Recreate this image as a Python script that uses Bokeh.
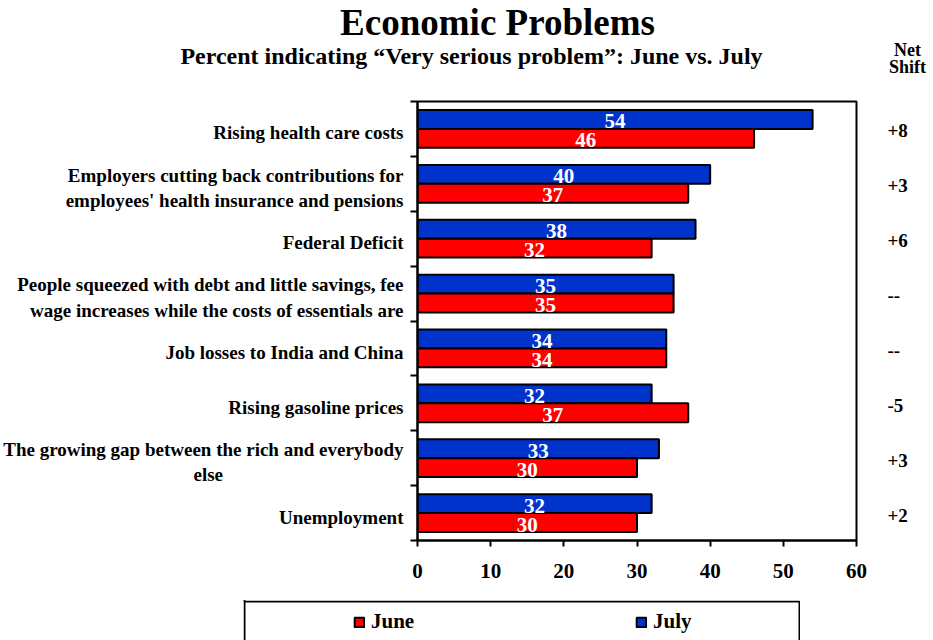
from bokeh.plotting import figure
from bokeh.layouts import column, row
from bokeh.models import (Range1d, FixedTicker, Legend, LegendItem, LinearAxis,
                          BoxAnnotation, ColumnDataSource, Spacer)
from bokeh.embed import file_html
from bokeh.resources import INLINE

# ---------------- data ----------------
categories = [
    "Rising health care costs",
    "Employers cutting back contributions for\nemployees' health insurance and pensions",
    "Federal Deficit",
    "People squeezed with debt and little savings, fee\nwage increases while the costs of essentials are",
    "Job losses to India and China",
    "Rising gasoline prices",
    "The growing gap between the rich and everybody\nelse",
    "Unemployment",
]
june = [46, 37, 32, 35, 34, 37, 30, 30]
july = [54, 40, 38, 35, 34, 32, 33, 32]
net_shift = ["+8", "+3", "+6", "--", "--", "-5", "+3", "+2"]
x_ticks = [0, 10, 20, 30, 40, 50, 60]

title_text = "Economic Problems"
subtitle_text = "Percent indicating \u201cVery serious problem\u201d:  June vs. July"
net_header = ["Net", "Shift"]

# ---------------- style ----------------
FONT = "Liberation Serif"
BLUE = "#0033CC"
RED = "#FF0000"
W = 933
NBSP = "\u00a0"
# right padding (in no-break spaces) so that a short last line sits centred
# under the line above it, as in the original
line_pad = {6: 38}

n = len(categories)
idx = list(range(n))
bar_h = 0.345
px_per_unit = 439 / n
y_july = [i + 0.5 - bar_h / 2 for i in idx]
y_june = [i + 0.5 + bar_h / 2 for i in idx]

src = ColumnDataSource(dict(
    y_july=y_july, y_june=y_june, july=july, june=june,
    july_mid=[v / 2 for v in july], june_mid=[v / 2 for v in june],
    july_txt=[str(v) for v in july], june_txt=[str(v) for v in june],
))

# ---------------- header figure ----------------
top = figure(width=W, height=90, output_backend="svg", toolbar_location=None,
             x_range=Range1d(0, W), y_range=Range1d(90, 0),
             x_axis_type=None, y_axis_type=None, min_border=0)
top.frame_align = False
top.outline_line_color = None
top.xgrid.visible = False
top.ygrid.visible = False
top.text(x=[497], y=[22], text=[title_text], text_font=FONT,
         text_font_style="bold", text_font_size="37px", text_color="black",
         text_align="center", text_baseline="middle")
top.text(x=[474], y=[55], text=[subtitle_text], text_font=FONT,
         text_font_style="bold", text_font_size="24px", text_color="black",
         text_align="center", text_baseline="middle")
top.text(x=[907, 907], y=[49, 66], text=net_header, text_font=FONT,
         text_font_style="bold", text_font_size="18px", text_color="black",
         text_align="center", text_baseline="middle")

# ---------------- main chart ----------------
p = figure(width=W, height=510, output_backend="svg", toolbar_location=None,
           x_range=Range1d(0, 60), y_range=Range1d(n, 0),
           min_border_left=417, min_border_right=77,
           min_border_top=11, min_border_bottom=60)
p.outline_line_color = "black"
p.outline_line_width = 2
p.xgrid.visible = False
p.ygrid.visible = False

xa = p.xaxis[0]
xa.ticker = FixedTicker(ticks=x_ticks)
xa.axis_line_width = 2
xa.major_tick_line_width = 2
xa.major_tick_out = 6
xa.major_tick_in = 0
xa.minor_tick_line_color = None
xa.major_label_text_font = FONT
xa.major_label_text_font_style = "bold"
xa.major_label_text_font_size = "21px"
xa.major_label_text_color = "black"
xa.major_label_standoff = 17

# left axis: boundary ticks (minor) + category labels (major)
cat_labels = []
for i, c in enumerate(categories):
    lines = c.split("\n")
    if i in line_pad:
        lines[-1] = lines[-1] + NBSP * line_pad[i]
    cat_labels.append("\n".join(lines))

label_ticks = [i + 0.5 + 4 / px_per_unit for i in idx]
ya = p.yaxis[0]
ya.ticker = FixedTicker(ticks=label_ticks, minor_ticks=list(range(n + 1)))
ya.major_label_overrides = {t: c for t, c in zip(label_ticks, cat_labels)}
ya.axis_line_width = 2
ya.major_tick_line_color = None
ya.major_tick_out = 0
ya.major_tick_in = 0
ya.minor_tick_line_color = "black"
ya.minor_tick_line_width = 2
ya.minor_tick_out = 7
ya.minor_tick_in = 0
ya.major_label_text_font = FONT
ya.major_label_text_font_style = "bold"
ya.major_label_text_font_size = "19px"
ya.major_label_text_color = "black"
ya.major_label_text_line_height = 1.2
ya.major_label_standoff = 7

# right axis: net shift column
shift_ticks = [i + 0.5 + 2 / px_per_unit for i in idx]
ra = LinearAxis(ticker=FixedTicker(ticks=shift_ticks),
                major_label_overrides={t: s for t, s in zip(shift_ticks, net_shift)},
                axis_line_color=None, major_tick_line_color=None,
                minor_tick_line_color=None, major_label_standoff=25,
                major_label_text_font=FONT, major_label_text_font_style="bold",
                major_label_text_font_size="19px",
                major_label_text_color="black")
p.add_layout(ra, "right")

r_july = p.hbar(y="y_july", right="july", left=0, height=bar_h, source=src,
                fill_color=BLUE, line_color="black", line_width=2)
r_june = p.hbar(y="y_june", right="june", left=0, height=bar_h, source=src,
                fill_color=RED, line_color="black", line_width=2)

for ycol, xcol, tcol in (("y_july", "july_mid", "july_txt"),
                         ("y_june", "june_mid", "june_txt")):
    p.text(x=xcol, y=ycol, text=tcol, source=src, text_color="white",
           text_font=FONT, text_font_style="bold", text_font_size="21px",
           text_align="center", text_baseline="middle", y_offset=2)

# ---------------- legend strip ----------------
leg = figure(width=557, height=40, output_backend="svg", toolbar_location=None,
             x_range=Range1d(0, 557), y_range=Range1d(40, 0),
             x_axis_type=None, y_axis_type=None, min_border=0)
leg.frame_align = False
leg.outline_line_color = None
leg.xgrid.visible = False
leg.ygrid.visible = False
leg.add_layout(BoxAnnotation(left=1, right=556, top=1, bottom=80,
                             fill_color=None, fill_alpha=0,
                             line_color="black", line_width=2, line_alpha=1))
# swatch-only renderers (kept out of view) so the legend can show the styles
d_june = leg.hbar(y=[-100], right=[1], left=0, height=1, fill_color=RED,
                  line_color="black", line_width=2)
d_july = leg.hbar(y=[-100], right=[1], left=0, height=1, fill_color=BLUE,
                  line_color="black", line_width=2)
legend = Legend(items=[LegendItem(label="June", renderers=[d_june]),
                       LegendItem(label="July", renderers=[d_july])],
                location=(110, 6), orientation="horizontal",
                glyph_width=12, glyph_height=12, label_standoff=6,
                label_width=250, spacing=14, padding=0, margin=0,
                border_line_color=None, background_fill_alpha=0,
                label_text_font=FONT, label_text_font_style="bold",
                label_text_font_size="21px", label_text_color="black")
leg.add_layout(legend)

layout = column(top, p, row(Spacer(width=243, height=40), leg))

open("out.html", "w").write(file_html(layout, INLINE))
